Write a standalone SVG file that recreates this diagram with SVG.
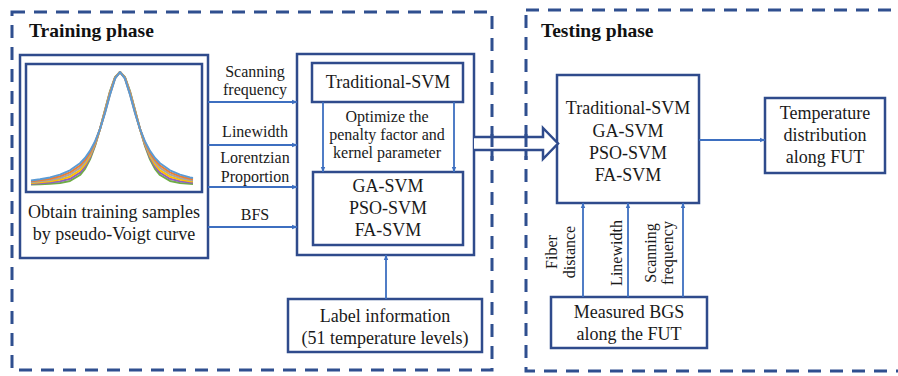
<svg xmlns="http://www.w3.org/2000/svg" width="898" height="376" viewBox="0 0 898 376">
<defs>
<style>
.phase{fill:none;stroke:#2f4f8f;stroke-width:3;stroke-dasharray:13 9}
.box{fill:#fff;stroke:#2f4b8c;stroke-width:2.5}
.t{font-family:"Liberation Serif","Times New Roman",serif;font-size:18px;fill:#1a1a1a;text-anchor:middle}
.s{font-family:"Liberation Serif","Times New Roman",serif;font-size:16px;fill:#1a1a1a;text-anchor:middle}
.h{font-family:"Liberation Serif","Times New Roman",serif;font-size:19.5px;font-weight:bold;fill:#111}
.a{fill:none;stroke:#3d6fc0;stroke-width:1.8;marker-end:url(#ah)}
.c{fill:none;stroke-width:2;stroke-linejoin:round}
</style>
<marker id="ah" viewBox="0 0 10 10" refX="9" refY="5" markerWidth="5.5" markerHeight="5.5" orient="auto" markerUnits="userSpaceOnUse">
<path d="M0,1 L10,5 L0,9 z" fill="#3d6fc0"/>
</marker>
</defs>
<rect width="898" height="376" fill="#fff"/>

<g id="training-phase">
<rect class="phase" x="12" y="12" width="480" height="358"/>
<text class="h" x="29" y="37">Training phase</text>
</g>
<g id="testing-phase">
<rect class="phase" x="526" y="10" width="385" height="361"/>
<text class="h" x="541" y="37">Testing phase</text>
</g>

<g id="sample-box">
<rect class="box" x="20" y="55" width="188" height="203"/>
<rect class="box" x="26" y="64" width="176" height="128" stroke-width="3"/>
<polyline class="c" stroke="#70ad47" points="31,184.6 40,184.3 50,183.8 60,183.0 70,180.9 80,175.0 85,168.8 90,159.3 95,145.9 100,129 105,109.9 110,91.3 115,77.3 120,72 125,77.3 130,91.3 135,109.9 140,129 145,145.9 150,159.3 155,168.8 160,175.0 170,180.9 180,183.0 190,183.8 193,184.0"/>
<polyline class="c" stroke="#8e5fc2" points="31,183.8 40,183.3 50,182.6 60,181.3 70,178.8 80,172.6 85,166.6 90,157.6 95,145.1 100,129 105,110.5 110,92.0 115,77.6 120,72 125,77.6 130,92.0 135,110.5 140,129 145,145.1 150,157.6 155,166.6 160,172.6 170,178.8 180,181.3 190,182.6 193,182.8"/>
<polyline class="c" stroke="#ffc000" points="31,183.0 40,182.3 50,181.3 60,179.6 70,176.7 80,170.3 85,164.4 90,155.9 95,144.2 100,129 105,111.1 110,92.7 115,77.8 120,72 125,77.8 130,92.7 135,111.1 140,129 145,144.2 150,155.9 155,164.4 160,170.3 170,176.7 180,179.6 190,181.3 193,181.6"/>
<polyline class="c" stroke="#a5a5a5" points="31,182.2 40,181.3 50,180.0 60,178.0 70,174.5 80,167.9 85,162.3 90,154.3 95,143.3 100,129 105,111.8 110,93.4 115,78.1 120,72 125,78.1 130,93.4 135,111.8 140,129 145,143.3 150,154.3 155,162.3 160,167.9 170,174.5 180,178.0 190,180.0 193,180.4"/>
<polyline class="c" stroke="#ed7d31" points="31,181.3 40,180.3 50,178.7 60,176.3 70,172.4 80,165.5 85,160.1 90,152.6 95,142.4 100,129 105,112.4 110,94.1 115,78.4 120,72 125,78.4 130,94.1 135,112.4 140,129 145,142.4 150,152.6 155,160.1 160,165.5 170,172.4 180,176.3 190,178.7 193,179.2"/>
<polyline class="c" stroke="#5b9bd5" points="31,180.5 40,179.3 50,177.4 60,174.6 70,170.3 80,163.2 85,158.0 90,150.9 95,141.5 100,129 105,113.0 110,94.8 115,78.7 120,72 125,78.7 130,94.8 135,113.0 140,129 145,141.5 150,150.9 155,158.0 160,163.2 170,170.3 180,174.6 190,177.4 193,178.0"/>
<text class="t" x="114" y="218">Obtain training samples</text>
<text class="t" x="114" y="240">by pseudo-Voigt curve</text>
</g>

<g id="svm-training">
<rect class="box" x="297" y="54" width="177" height="201"/>
<rect class="box" x="312" y="63" width="151" height="39"/>
<text class="t" x="388" y="88">Traditional-SVM</text>
<text class="s" x="387" y="122">Optimize the</text>
<text class="s" x="387" y="140">penalty factor and</text>
<text class="s" x="387" y="158">kernel parameter</text>
<rect class="box" x="313" y="172" width="150" height="73"/>
<text class="t" x="388" y="192">GA-SVM</text>
<text class="t" x="388" y="214">PSO-SVM</text>
<text class="t" x="388" y="236">FA-SVM</text>
</g>

<g id="label-info">
<rect class="box" x="288" y="299" width="194" height="53"/>
<text class="t" x="385" y="322">Label information</text>
<text class="t" x="385" y="344">(51 temperature levels)</text>
</g>

<g id="svm-testing">
<rect class="box" x="557" y="75" width="142" height="128"/>
<text class="t" x="628" y="114">Traditional-SVM</text>
<text class="t" x="628" y="137">GA-SVM</text>
<text class="t" x="628" y="159">PSO-SVM</text>
<text class="t" x="628" y="181">FA-SVM</text>
</g>

<g id="temperature">
<rect class="box" x="765" y="98" width="120" height="75"/>
<text class="t" x="825" y="119">Temperature</text>
<text class="t" x="825" y="141">distribution</text>
<text class="t" x="825" y="163">along FUT</text>
</g>

<g id="measured-bgs">
<rect class="box" x="551" y="297" width="156" height="51"/>
<text class="t" x="629" y="318">Measured BGS</text>
<text class="t" x="629" y="340">along the FUT</text>
</g>

<g id="connectors">
<line class="a" x1="208" y1="102" x2="297" y2="102"/>
<line class="a" x1="208" y1="145" x2="297" y2="145"/>
<line class="a" x1="208" y1="187" x2="297" y2="187"/>
<line class="a" x1="208" y1="227" x2="297" y2="227"/>
<text class="s" x="255" y="77">Scanning</text>
<text class="s" x="255" y="95">frequency</text>
<text class="s" x="255" y="137">Linewidth</text>
<text class="s" x="255" y="163">Lorentzian</text>
<text class="s" x="255" y="182">Proportion</text>
<text class="s" x="255" y="220">BFS</text>
<line class="a" x1="323" y1="102" x2="323" y2="172"/>
<line class="a" x1="454" y1="102" x2="454" y2="172"/>
<line class="a" x1="386" y1="299" x2="386" y2="255"/>
<path d="M474,137 H543 V128 L558,143.5 L543,159 V150 H474" fill="#fff" stroke="#2f4b8c" stroke-width="2.5" stroke-linejoin="miter"/>
<line class="a" x1="699" y1="140" x2="765" y2="140"/>
<line class="a" x1="583" y1="297" x2="583" y2="203"/>
<line class="a" x1="628" y1="297" x2="628" y2="203"/>
<line class="a" x1="683" y1="297" x2="683" y2="203"/>
<text class="s" transform="translate(557,252) rotate(-90)">Fiber</text>
<text class="s" transform="translate(575,252) rotate(-90)">distance</text>
<text class="s" transform="translate(622,253) rotate(-90)">Linewidth</text>
<text class="s" transform="translate(656,253) rotate(-90)">Scanning</text>
<text class="s" transform="translate(673,253) rotate(-90)">frequency</text>
</g>
<line x1="492" y1="128" x2="492" y2="160" stroke="#2f4f8f" stroke-width="3" stroke-dasharray="13 9" stroke-dashoffset="-6"/>
<line x1="526" y1="128" x2="526" y2="160" stroke="#2f4f8f" stroke-width="3" stroke-dasharray="13 9" stroke-dashoffset="-6"/>
</svg>
